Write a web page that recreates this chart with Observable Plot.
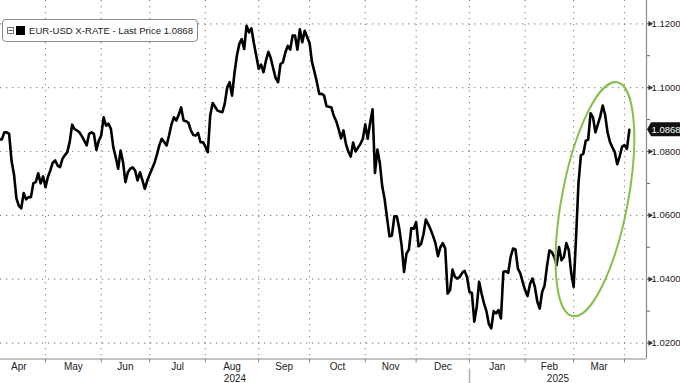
<!DOCTYPE html>
<html>
<head>
<meta charset="utf-8">
<script src="https://cdn.jsdelivr.net/npm/d3@7"></script>
<script src="https://cdn.jsdelivr.net/npm/@observablehq/plot@0.6"></script>
<style>
  body { margin: 0; background: #fff; }
  #wrap { position: relative; width: 680px; height: 383px; overflow: hidden; font-family: "Liberation Sans", Arial, sans-serif; }
  #wrap svg { display: block; }
  #legend { position: absolute; left: 2px; top: 19px; height: 21px; box-sizing: content-box; padding: 0 4px 0 4px;
            border: 1px solid #8c8c8c; border-radius: 4px; background: #fff; display: flex; align-items: center;
            font-size: 9.6px; color: #222; white-space: nowrap; z-index: 2; }
  #legend .ico { display: block; margin-right: 2px; }
  #legend .sw { display: block; width: 9px; height: 9px; background: #000; margin-right: 4px; }
</style>
</head>
<body>
<div id="wrap"><div id="legend"></div></div>
<script>
// ---- data ----
const seriesName = "EUR-USD X-RATE";
const lastPrice = 1.0868;
// trading session numbers counted from 2024-04-01 (weekdays only); first value is session 3
const firstSession = 3;
const rate = [
  1.0838,1.0838,1.0860,1.0860,1.0855,1.0770,1.0728,1.0653,1.0630,1.0622,
  1.0670,1.0650,1.0657,1.0657,1.0701,1.0704,1.0732,1.0700,1.0722,1.0688,
  1.0720,1.0741,1.0765,1.0772,1.0756,1.0751,1.0777,1.0788,1.0798,1.0830,
  1.0884,1.0870,1.0866,1.0860,1.0848,1.0834,1.0819,1.0855,1.0860,1.0855,
  1.0805,1.0834,1.0850,1.0907,1.0881,1.0887,1.0871,1.0813,1.0782,1.0746,
  1.0803,1.0767,1.0704,1.0735,1.0746,1.0750,1.0740,1.0709,1.0735,1.0710,
  1.0683,1.0709,1.0728,1.0746,1.0765,1.0790,1.0820,1.0840,1.0830,1.0819,
  1.0850,1.0885,1.0907,1.0897,1.0915,1.0938,1.0897,1.0895,1.0890,1.0866,
  1.0852,1.0850,1.0858,1.0829,1.0829,1.0815,1.0798,1.0913,1.0952,1.0940,
  1.0928,1.0925,1.0923,1.0950,1.1001,1.1017,1.0975,1.1045,1.1100,1.1137,
  1.1152,1.1121,1.1194,1.1173,1.1186,1.1140,1.1100,1.1059,1.1072,1.1048,
  1.1085,1.1112,1.1092,1.1060,1.1030,1.1017,1.1074,1.1079,1.1110,1.1131,
  1.1119,1.1163,1.1163,1.1119,1.1183,1.1142,1.1178,1.1159,1.1140,1.1080,
  1.1050,1.1018,1.0980,1.0981,1.0975,1.0942,1.0940,1.0938,1.0912,1.0895,
  1.0870,1.0841,1.0866,1.0824,1.0800,1.0784,1.0828,1.0800,1.0812,1.0824,
  1.0840,1.0885,1.0840,1.0890,1.0932,1.0733,1.0806,1.0764,1.0691,1.0650,
  1.0591,1.0534,1.0537,1.0597,1.0597,1.0560,1.0506,1.0423,1.0480,1.0493,
  1.0560,1.0558,1.0579,1.0503,1.0510,1.0540,1.0587,1.0572,1.0555,1.0535,
  1.0512,1.0472,1.0500,1.0513,1.0496,1.0355,1.0366,1.0430,1.0407,1.0402,
  1.0407,1.0420,1.0426,1.0407,1.0360,1.0357,1.0267,1.0313,1.0392,1.0355,
  1.0324,1.0300,1.0260,1.0246,1.0300,1.0293,1.0303,1.0277,1.0423,1.0425,
  1.0420,1.0470,1.0496,1.0493,1.0433,1.0418,1.0390,1.0365,1.0347,1.0385,
  1.0402,1.0376,1.0330,1.0308,1.0360,1.0380,1.0440,1.0490,1.0485,1.0470,
  1.0444,1.0501,1.0459,1.0470,1.0513,1.0491,1.0420,1.0376,1.0530,1.0700,
  1.0788,1.0793,1.0834,1.0837,1.0920,1.0907,1.0860,1.0885,1.0910,1.0944,
  1.0915,1.0860,1.0830,1.0813,1.0798,1.0760,1.0785,1.0815,1.0820,1.0808,
  1.0868
];
const monthNames  = ["Apr","May","Jun","Jul","Aug","Sep","Oct","Nov","Dec","Jan","Feb","Mar"];
const monthStarts = [0,22,45,65,88,110,131,154,175,197,220,240,261]; // first session of each month
const yearNames   = ["2024","2025"];
const yearStart2025 = 197;
const majorTicks = [1.02,1.04,1.06,1.08,1.10,1.12];
const minorTicks = [1.03,1.05,1.07,1.09,1.11];
const sessionDomain = [3.43, 270.08];
const rateDomain = [1.0150, 1.1273];
const highlight = {session: 249, rate: 1.0649}; // centre of the green ring

// ---- derived tables ----
const series = rate.map((r, i) => ({session: firstSession + i, rate: r}));
const monthLabels = monthNames.map((m, i) => ({label: m, session: (monthStarts[i] + monthStarts[i + 1]) / 2}));
const gridSessions = monthStarts.filter(s => s > sessionDomain[0] && s < sessionDomain[1]);
const yearLabels = [
  {label: yearNames[0], session: (sessionDomain[0] + yearStart2025) / 2},
  {label: yearNames[1], session: (yearStart2025 + sessionDomain[1]) / 2}
];

const axisGray = "#8a8a8a";
const txt = "#222";
const fontFamily = '"Liberation Sans", Arial, sans-serif';
const fmt = d3.format(".4f");

function overlay(index, scales, values, dimensions) {
  const ns = "http://www.w3.org/2000/svg";
  const g = document.createElementNS(ns, "g");
  const {width, height, marginRight, marginBottom} = dimensions;
  // green ring
  const cx = scales.x(highlight.session), cy = scales.y(highlight.rate);
  const e = document.createElementNS(ns, "ellipse");
  e.setAttribute("cx", cx); e.setAttribute("cy", cy);
  e.setAttribute("rx", 33); e.setAttribute("ry", 119);
  e.setAttribute("transform", `rotate(10.8 ${cx} ${cy})`);
  e.setAttribute("fill", "none"); e.setAttribute("stroke", "#84c14a"); e.setAttribute("stroke-width", 2);
  g.appendChild(e);
  // year separator under the axis
  const sx = Math.round(scales.x(yearStart2025)) + 0.5;
  const sep = document.createElementNS(ns, "line");
  sep.setAttribute("x1", sx); sep.setAttribute("x2", sx);
  sep.setAttribute("y1", height - marginBottom + 10); sep.setAttribute("y2", height);
  sep.setAttribute("stroke", "#b0b0b0"); sep.setAttribute("stroke-width", 1.5);
  g.appendChild(sep);
  // last price pointer
  const py = scales.y(lastPrice), px = width - marginRight;
  const p = document.createElementNS(ns, "path");
  p.setAttribute("d", `M${px + 1},${py} L${px + 5},${py - 7} L${width + 2},${py - 7} L${width + 2},${py + 7} L${px + 5},${py + 7} Z`);
  p.setAttribute("fill", "#111");
  g.appendChild(p);
  const t = document.createElementNS(ns, "text");
  t.setAttribute("x", px + 5.5); t.setAttribute("y", py);
  t.setAttribute("dy", "0.35em");
  t.setAttribute("text-anchor", "start");
  t.setAttribute("fill", "#fff"); t.setAttribute("font-size", 9.5);
  t.textContent = fmt(lastPrice);
  g.appendChild(t);
  return g;
}

const chart = Plot.plot({
  width: 680, height: 383,
  marginLeft: 0, marginTop: 0, marginRight: 34, marginBottom: 24.5,
  style: {fontFamily, fontSize: "10px", color: txt, background: "#fff"},
  x: {type: "linear", domain: sessionDomain, axis: null},
  y: {domain: rateDomain, axis: null},
  marks: [
    Plot.gridY({ticks: majorTicks, stroke: "#8f8f8f", strokeOpacity: 1, strokeWidth: 1.2, strokeDasharray: "1.3,4.7"}),
    Plot.gridX({ticks: gridSessions, stroke: "#8f8f8f", strokeOpacity: 1, strokeWidth: 1.2, strokeDasharray: "1.3,4.7"}),
    Plot.ruleX([sessionDomain[1]], {stroke: axisGray, strokeWidth: 1.2}),
    Plot.ruleY([rateDomain[0]], {stroke: axisGray, strokeWidth: 1.2}),
    Plot.axisX({ticks: gridSessions, tickSize: 4, tickFormat: () => "", stroke: axisGray, label: null}),
    Plot.text(monthLabels, {x: "session", text: "label", frameAnchor: "bottom", dy: 8, lineAnchor: "middle", fill: txt, fontSize: 10}),
    Plot.text(yearLabels, {x: "session", text: "label", frameAnchor: "bottom", dy: 19.5, lineAnchor: "middle", fill: txt, fontSize: 10}),
    Plot.axisY({anchor: "right", ticks: [...majorTicks, ...minorTicks], tickSize: 3, tickFormat: () => "", stroke: "#666", label: null}),
    Plot.dot(majorTicks, {x: () => sessionDomain[1], y: d => d, symbol: "triangle", rotate: 90, r: 2, fill: "#333", stroke: "none", dx: 3.5}),
    Plot.axisY({anchor: "right", ticks: majorTicks, tickSize: 0, tickPadding: 5, tickFormat: fmt, fill: txt, fontSize: 9.5, label: null}),
    Plot.line(series, {x: "session", y: "rate", stroke: "#000", strokeWidth: 2.6, strokeLinejoin: "round"}),
    overlay
  ]
});
document.getElementById("wrap").appendChild(chart);

// legend overlay
const legend = document.getElementById("legend");
legend.innerHTML = `<svg class="ico" width="7" height="7"><rect x="0.5" y="0.5" width="6" height="6" fill="none" stroke="#777"/><line x1="1.5" y1="3.5" x2="5.5" y2="3.5" stroke="#555"/></svg><span class="sw"></span><span></span>`;
legend.lastChild.textContent = `${seriesName} - Last Price ${fmt(lastPrice)}`;
</script>
</body>
</html>
